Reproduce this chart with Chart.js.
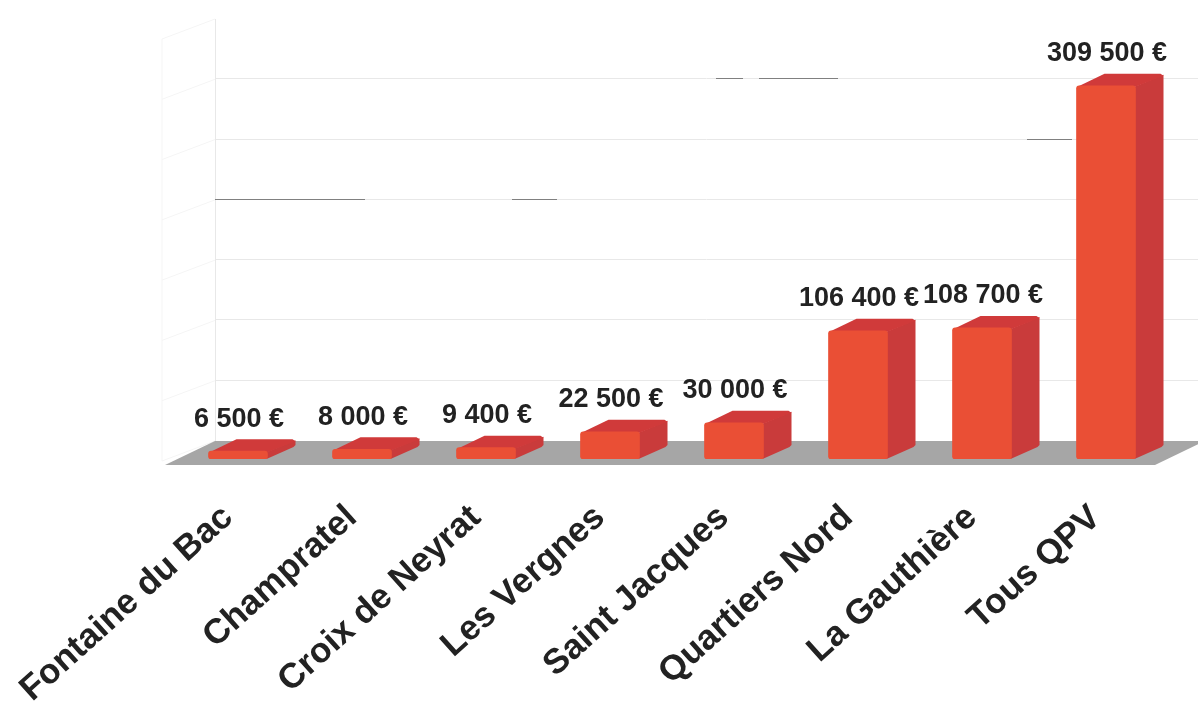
<!DOCTYPE html>
<html lang="fr">
<head>
<meta charset="utf-8">
<title>QPV</title>
<script src="https://cdn.jsdelivr.net/npm/chart.js"></script>
<style>
    html, body { margin: 0; padding: 0; background: #fff; }
    #wrap { width: 1198px; height: 711px; }
</style>
</head>
<body>
<div id="wrap"><canvas id="graphique"></canvas></div>
<script>
const categories = ["Fontaine du Bac", "Champratel", "Croix de Neyrat", "Les Vergnes", "Saint Jacques", "Quartiers Nord", "La Gauthière", "Tous QPV"];
const valeurs = [6500, 8000, 9400, 22500, 30000, 106400, 108700, 309500];
const maxAxe = 350000;
const pasAxe = 50000;

// profondeur de la fausse 3D
const profX = 28, profY = 12;

function formatEuro(v) {
    return String(v).replace(/\B(?=(\d{3})+$)/g, " ") + " €";
}

function poly(ctx, points, couleur) {
    ctx.fillStyle = couleur;
    ctx.beginPath();
    points.forEach((p, i) => i ? ctx.lineTo(p[0], p[1]) : ctx.moveTo(p[0], p[1]));
    ctx.closePath();
    ctx.fill();
}

// sol, murs et grille, décalés vers le fond
const decor = {
    id: "decor",
    beforeDatasetsDraw(chart) {
        const { ctx, scales: { y } } = chart;
        const zero = y.getPixelForValue(0);
        const fond = zero - 18;
        const murX = 215, murGauche = 162;
        ctx.save();
        ctx.lineWidth = 1;

        ctx.strokeStyle = "#f5f5f5";
        y.ticks.forEach(t => {
            const py = y.getPixelForValue(t.value) - 18;
            ctx.beginPath();
            ctx.moveTo(murX, py);
            ctx.lineTo(murGauche, py + 20);
            ctx.stroke();
        });
        ctx.beginPath();
        ctx.moveTo(murGauche, y.getPixelForValue(maxAxe) + 2);
        ctx.lineTo(murGauche, fond + 20);
        ctx.stroke();

        ctx.strokeStyle = "#e8e8e8";
        ctx.beginPath();
        ctx.moveTo(murX + 0.5, y.getPixelForValue(maxAxe) - 18);
        ctx.lineTo(murX + 0.5, fond);
        ctx.stroke();

        y.ticks.filter(t => t.value > 0 && t.value < maxAxe).forEach(t => {
            const py = Math.round(y.getPixelForValue(t.value) - 19) + 0.5;
            ctx.beginPath();
            ctx.moveTo(murX, py);
            ctx.lineTo(chart.width, py);
            ctx.stroke();
        });

        // morceaux sombres de la grille restés au scan
        ctx.strokeStyle = "#808080";
        [[300000, 716, 743], [300000, 759, 838], [250000, 1027, 1072], [200000, 215, 365], [200000, 512, 557]].forEach(s => {
            const py = Math.round(y.getPixelForValue(s[0]) - 19) + 0.5;
            ctx.beginPath();
            ctx.moveTo(s[1], py);
            ctx.lineTo(s[2], py);
            ctx.stroke();
        });

        poly(ctx, [[165, zero + 6], [1155, zero + 6], [1205, fond], [215, fond]], "#a6a6a6");

        // faces de côté et du dessus
        chart.getDatasetMeta(0).data.forEach(b => {
            const g = b.x - b.width / 2, d = b.x + b.width / 2;
            poly(ctx, [[d - 1, b.base], [d + profX - 2, b.base - profY], [d + profX, b.base - profY - 2], [d + profX, b.y - profY + 1], [d - 1, b.y + 1]], "#c93b3b");
            poly(ctx, [[g + 1, b.y + 1], [g + profX, b.y - profY], [d + profX - 3, b.y - profY], [d + profX, b.y - profY + 2], [d, b.y + 1]], "#d03a3a");
        });
        ctx.restore();
    },
    afterDatasetsDraw(chart) {
        const { ctx } = chart;
        ctx.save();
        ctx.font = "bold 27px 'Liberation Sans', Arial, sans-serif";
        ctx.fillStyle = "#222222";
        ctx.textAlign = "center";
        ctx.textBaseline = "middle";
        chart.getDatasetMeta(0).data.forEach((b, i) => {
            ctx.fillText(formatEuro(valeurs[i]), b.x + 1, b.y - 32);
        });
        ctx.restore();
    }
};

new Chart(document.getElementById("graphique"), {
    type: "bar",
    data: {
        labels: categories,
        datasets: [{
            data: valeurs,
            backgroundColor: "#ea4f35",
            barThickness: 59,
            borderRadius: 3,
            borderSkipped: false
        }]
    },
    options: {
        responsive: true,
        maintainAspectRatio: false,
        animation: false,
        layout: { padding: { left: 176, right: 30, top: 37, bottom: 0 } },
        plugins: { legend: { display: false }, tooltip: { enabled: false } },
        scales: {
            x: {
                grid: { display: false },
                border: { display: false },
                afterFit(scale) {
                    scale.height = 252;
                    scale.paddingLeft = 0;
                    scale.paddingRight = 0;
                },
                ticks: {
                    autoSkip: false,
                    minRotation: 42,
                    maxRotation: 42,
                    padding: 30,
                    labelOffset: -10,
                    color: "#222222",
                    font: { family: "'Liberation Sans', Arial, sans-serif", size: 35, weight: "bold" }
                }
            },
            y: {
                display: false,
                min: 0,
                max: maxAxe,
                ticks: { stepSize: pasAxe }
            }
        }
    },
    plugins: [decor]
});
</script>
</body>
</html>
